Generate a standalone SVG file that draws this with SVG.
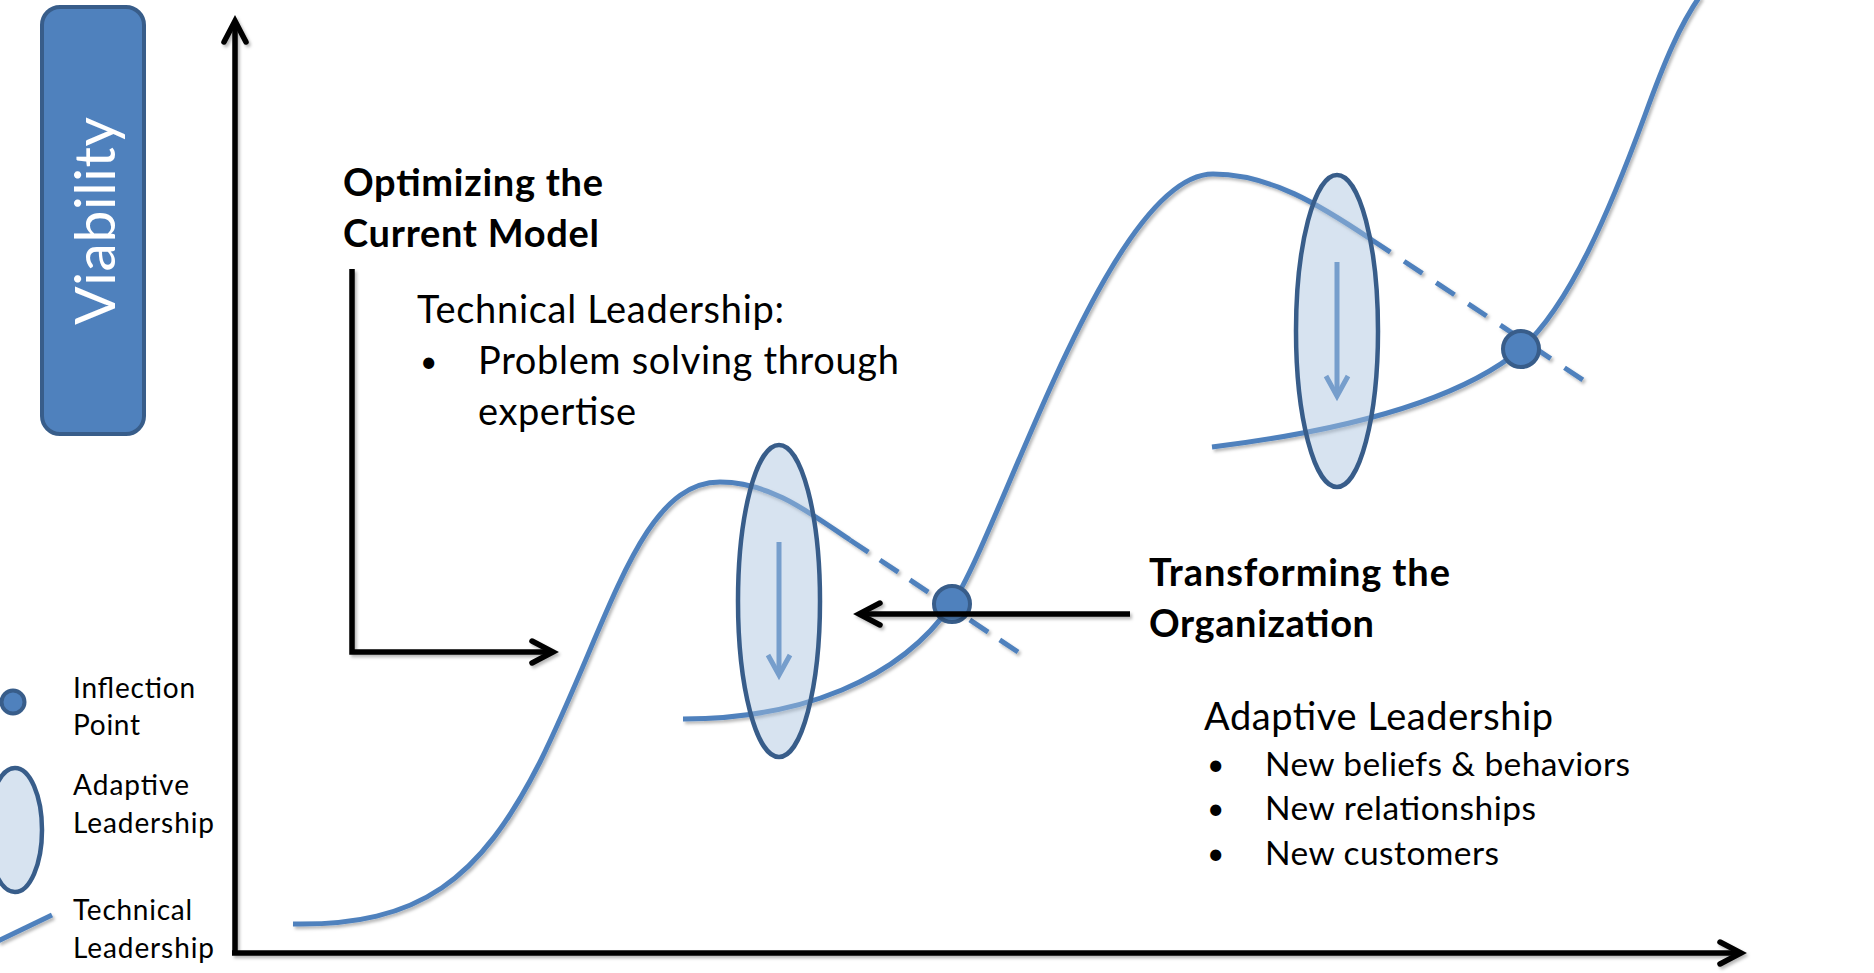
<svg xmlns="http://www.w3.org/2000/svg" width="1874" height="973" viewBox="0 0 1874 973">
<defs>
<style>
.t{font-family:Lato,"Open Sans","Liberation Sans",sans-serif;fill:#000}
.b{font-weight:bold;font-size:38px}
.r{font-size:38px}
.s{font-size:33.5px}
.l{font-size:28px}
.bu{font-size:30px}
.curve{fill:none;stroke:#4F81BD;stroke-width:5;stroke-linecap:butt}
.dash{fill:none;stroke:#4F81BD;stroke-width:5}
.ell{fill:#A7C0DE;fill-opacity:0.45;stroke:#385D8A;stroke-width:4.5}
.pt{fill:#4F81BD;stroke:#385D8A;stroke-width:4}
.blk{fill:none;stroke:#000;stroke-width:5.5}
.bar{fill:none;stroke:#4F81BD;stroke-width:5}
</style>
<filter id="sh" filterUnits="userSpaceOnUse" x="0" y="0" width="1874" height="973">
<feDropShadow dx="2" dy="2.5" stdDeviation="1.5" flood-color="#000" flood-opacity="0.28"/>
</filter>
<marker id="ah" markerUnits="userSpaceOnUse" markerWidth="40" markerHeight="40" refX="0" refY="0" orient="auto" overflow="visible">
<path d="M-21,-11 L0,0 L-21,11" fill="none" stroke="#000" stroke-width="5.5" stroke-linecap="round" stroke-linejoin="miter"/>
</marker>
<marker id="ahb" markerUnits="userSpaceOnUse" markerWidth="40" markerHeight="40" refX="0" refY="0" orient="auto" overflow="visible">
<path d="M-20,-11 L0,0 L-20,11" fill="none" stroke="#4F81BD" stroke-width="5" stroke-linecap="butt"/>
</marker>
</defs>
<rect width="1874" height="973" fill="#fff"/>

<g id="viability">
<rect x="42" y="7" width="102" height="427" rx="18" fill="#4F81BD" stroke="#385D8A" stroke-width="4"/>
<text class="t" transform="translate(115,221) rotate(-90)" text-anchor="middle" font-size="57" style="fill:#fff" textLength="208">Viability</text>
</g>

<g id="axes" filter="url(#sh)">
<path class="blk" d="M235,953 L235,21" marker-end="url(#ah)"/>
<path class="blk" d="M232,953 L1741,953" marker-end="url(#ah)"/>
</g>

<g id="curves" filter="url(#sh)">
<path class="curve" d="M293,924 C420,926 480,880 540,762 C610,620 640,482 720,482 C770,482 810,513 850,540"/>
<path class="dash" stroke-dasharray="22 14" d="M850,540 L1018,652"/>
<path class="curve" d="M683,719 C800,719 900,680 952,604 C1000,534 1110,174 1213,174 C1270,174 1320,205 1372,240"/>
<path class="dash" stroke-dasharray="22 16.5" d="M1372,240 L1583,380"/>
<path class="curve" d="M1212,447 C1350,430 1460,400 1521,349 C1570,305 1610,210 1645,115 C1665,60 1680,25 1700,-4"/>
</g>

<g id="shift-arrows">
<path class="bar" d="M779,542 L779,675" marker-end="url(#ahb)"/>
<path class="bar" d="M1337,262 L1337,396" marker-end="url(#ahb)"/>
</g>

<g id="adaptive-1"><ellipse class="ell" cx="779" cy="601" rx="41" ry="156"/></g>
<g id="adaptive-2"><ellipse class="ell" cx="1337" cy="331" rx="41" ry="156"/></g>
<g id="inflection-1"><circle class="pt" cx="952" cy="604" r="18"/></g>
<g id="inflection-2"><circle class="pt" cx="1521" cy="349" r="18"/></g>

<g id="connectors" filter="url(#sh)">
<path class="blk" d="M352,269 L352,652 L553,652" marker-end="url(#ah)"/>
<path class="blk" d="M1130,614 L859,614" marker-end="url(#ah)"/>
</g>

<g id="optimizing">
<text class="t b" x="343" y="196" textLength="260">Optimizing the</text>
<text class="t b" x="343" y="247" textLength="256">Current Model</text>
</g>
<g id="technical-text">
<text class="t r" x="417" y="323" textLength="367">Technical Leadership:</text>
<text class="t bu" x="420" y="372">•</text>
<text class="t r" x="478" y="374" textLength="421">Problem solving through</text>
<text class="t r" x="478" y="425" textLength="158">expertise</text>
</g>
<g id="transforming">
<text class="t b" x="1149" y="586" textLength="301">Transforming the</text>
<text class="t b" x="1149" y="637" textLength="225">Organization</text>
</g>
<g id="adaptive-text">
<text class="t r" x="1204" y="730" textLength="349">Adaptive Leadership</text>
<text class="t bu" x="1207" y="775">•</text>
<text class="t s" x="1265" y="776" textLength="365">New beliefs &amp; behaviors</text>
<text class="t bu" x="1207" y="819">•</text>
<text class="t s" x="1265" y="820" textLength="271">New relationships</text>
<text class="t bu" x="1207" y="864">•</text>
<text class="t s" x="1265" y="865" textLength="234">New customers</text>
</g>

<g id="legend">
<g id="legend-inflection">
<circle class="pt" cx="13" cy="702" r="11.5"/>
<text class="t l" x="73" y="698" textLength="122">Inflection</text>
<text class="t l" x="73" y="735" textLength="67">Point</text>
</g>
<g id="legend-adaptive">
<ellipse class="ell" cx="15" cy="830" rx="27" ry="62"/>
<text class="t l" x="73" y="795" textLength="116">Adaptive</text>
<text class="t l" x="73" y="833" textLength="141">Leadership</text>
</g>
<g id="legend-technical">
<path class="curve" d="M-2,941 L52,915" filter="url(#sh)"/>
<text class="t l" x="73" y="920" textLength="119">Technical</text>
<text class="t l" x="73" y="958" textLength="141">Leadership</text>
</g>
</g>
</svg>
